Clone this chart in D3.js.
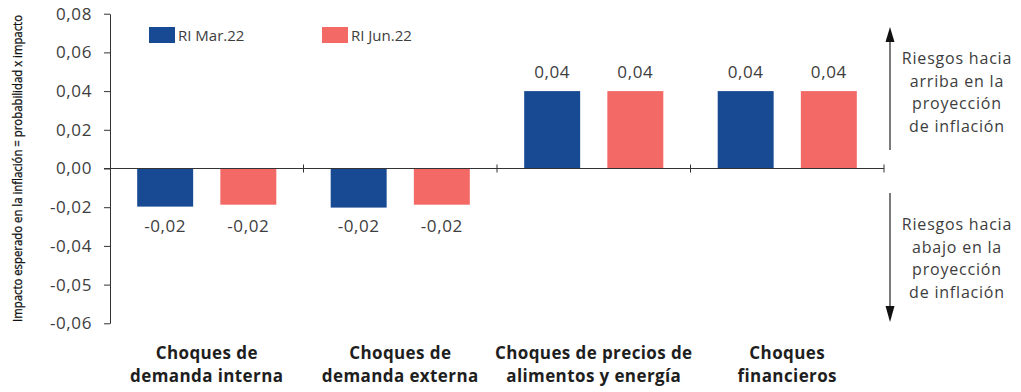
<!DOCTYPE html>
<html>
<head>
<meta charset="utf-8">
<script src="https://cdn.jsdelivr.net/npm/d3@7"></script>
<style>
  html, body { margin: 0; padding: 0; background: #fff; }
  svg { display: block; }
</style>
</head>
<body>
<svg id="chart" width="1021" height="392"></svg>
<script>
// ---- Data ----
const categories = [
  ["Choques de", "demanda interna"],
  ["Choques de", "demanda externa"],
  ["Choques de precios de", "alimentos y energía"],
  ["Choques", "financieros"]
];
const seriesNames = ["RI Mar.22", "RI Jun.22"];
const seriesMar22 = [-0.0197, -0.0202, 0.04, 0.04];
const seriesJun22 = [-0.0187, -0.0187, 0.04, 0.04];
const seriesColors = ["#174a92", "#f26966"];
const tickValues = [0.08, 0.06, 0.04, 0.02, 0.00, -0.02, -0.04, -0.06, -0.08];
const tickLabels = ["0,08", "0,06", "0,04", "0,02", "0,00", "-0,02", "-0,04", "-0,05", "-0,06"];
const yTitle = "Impacto esperado en la inflación = probabilidad x impacto";
const upText = ["Riesgos hacia", "arriba en la", "proyección", "de inflación"];
const downText = ["Riesgos hacia", "abajo en la", "proyección", "de inflación"];

const seriesValues = [seriesMar22, seriesJun22];
const fmt = v => d3.format(".2f")(v).replace(".", ",").replace("−", "-");

// ---- Layout ----
const svg = d3.select("#chart");
const mLeft = 110, mRight = 884, mTop = 13.7, mBottom = 323.3;

const x0 = d3.scaleBand().domain(d3.range(categories.length)).range([mLeft, mRight]).padding(0);
const x1 = d3.scaleBand().domain(d3.range(seriesNames.length)).range([0, x0.bandwidth()])
  .paddingInner(0.327).paddingOuter(0.327);
const y = d3.scaleLinear().domain([-0.08, 0.08]).range([mBottom, mTop]);

const textColor = "#3d3d3d";
const axisColor = "#333";

// Y axis
const yAxis = d3.axisLeft(y).tickValues(tickValues)
  .tickFormat((d, i) => tickLabels[i]).tickSize(6).tickSizeOuter(0).tickPadding(12);
const gy = svg.append("g").attr("transform", `translate(${mLeft},0)`).call(yAxis);
gy.select(".domain").attr("stroke", axisColor);
gy.selectAll(".tick line").attr("stroke", axisColor);
gy.selectAll(".tick text")
  .attr("fill", textColor)
  .style("font-family", "'Open Sans', sans-serif")
  .style("font-size", "17px")
  .style("letter-spacing", "0.6px");

// Y title
svg.append("text")
  .attr("transform", `translate(22,${(mTop + mBottom) / 2}) rotate(-90)`)
  .attr("text-anchor", "middle")
  .attr("textLength", 307)
  .attr("lengthAdjust", "spacingAndGlyphs")
  .style("font-family", "'Liberation Sans Narrow', 'Open Sans', sans-serif")
  .style("font-size", "12px")
  .attr("fill", "#111")
  .attr("stroke", "#111")
  .attr("stroke-width", 0.3)
  .text(yTitle);

// Bars
const groups = svg.append("g").selectAll("g")
  .data(categories.map((c, i) => i))
  .join("g")
  .attr("transform", i => `translate(${x0(i)},0)`);

groups.selectAll("rect")
  .data(i => seriesValues.map((s, k) => ({ k, v: s[i] })))
  .join("rect")
  .attr("x", d => x1(d.k))
  .attr("width", x1.bandwidth())
  .attr("y", d => y(Math.max(0, d.v)))
  .attr("height", d => Math.abs(y(d.v) - y(0)))
  .attr("fill", d => seriesColors[d.k]);

groups.selectAll("text.val")
  .data(i => seriesValues.map((s, k) => ({ k, v: s[i] })))
  .join("text")
  .attr("class", "val")
  .attr("x", d => x1(d.k) + x1.bandwidth() / 2)
  .attr("y", d => {
    const r = Math.round(d.v * 100) / 100;
    return r < 0 ? y(r) + 25 : y(r) - 13;
  })
  .attr("text-anchor", "middle")
  .attr("fill", textColor)
  .style("font-family", "'Open Sans', sans-serif")
  .style("font-size", "17px")
  .style("letter-spacing", "0.6px")
  .text(d => fmt(Math.round(d.v * 100) / 100));

// X axis (zero line) with category separator ticks
const y0 = y(0);
svg.append("line")
  .attr("x1", mLeft - 6).attr("x2", mRight)
  .attr("y1", y0).attr("y2", y0)
  .attr("stroke", axisColor);
const sepX = d3.range(1, categories.length).map(i => x0(i)).concat([mRight]);
svg.append("g").selectAll("line").data(sepX).join("line")
  .attr("x1", d => d).attr("x2", d => d)
  .attr("y1", y0 - 4).attr("y2", y0 + 4)
  .attr("stroke", axisColor);

// Category labels
const catG = svg.append("g");
categories.forEach((lines, i) => {
  const t = catG.append("text")
    .attr("text-anchor", "middle")
    .attr("fill", "#1e1e1e")
    .style("font-family", "'Open Sans', sans-serif")
    .style("font-weight", "bold")
    .style("font-size", "17px")
    .style("letter-spacing", "0.4px");
  lines.forEach((ln, j) => {
    t.append("tspan")
      .attr("x", x0(i) + x0.bandwidth() / 2)
      .attr("y", 359 + j * 22.5)
      .text(ln);
  });
});

// Legend
const leg = svg.append("g");
const legX = [149, 322];
seriesNames.forEach((n, k) => {
  leg.append("rect").attr("x", legX[k]).attr("y", 27).attr("width", 26).attr("height", 16)
    .attr("fill", seriesColors[k]);
  leg.append("text").attr("x", legX[k] + 29).attr("y", 41)
    .attr("fill", textColor)
    .style("font-family", "'Open Sans', sans-serif")
    .style("font-size", "15px")
    .text(n);
});

// Right annotation arrows
const ax = mRight + 6;
const ann = svg.append("g");
ann.append("line").attr("x1", ax).attr("x2", ax).attr("y1", 40).attr("y2", 150)
  .attr("stroke", "#222").attr("stroke-width", 1.2);
ann.append("path").attr("d", `M${ax - 4.5},42 L${ax + 4.5},42 L${ax},27 Z`).attr("fill", "#111");
ann.append("line").attr("x1", ax).attr("x2", ax).attr("y1", 193).attr("y2", 308)
  .attr("stroke", "#222").attr("stroke-width", 1.2);
ann.append("path").attr("d", `M${ax - 4.5},306 L${ax + 4.5},306 L${ax},322 Z`).attr("fill", "#111");

function annText(lines, yb) {
  const t = ann.append("text")
    .attr("text-anchor", "middle")
    .attr("fill", textColor)
    .style("font-family", "'Open Sans', sans-serif")
    .style("font-size", "16px")
    .style("letter-spacing", "0.8px");
  lines.forEach((ln, j) => {
    t.append("tspan").attr("x", 957).attr("y", yb + j * 22.5).text(ln);
  });
}
annText(upText, 64);
annText(downText, 230);
</script>
</body>
</html>
